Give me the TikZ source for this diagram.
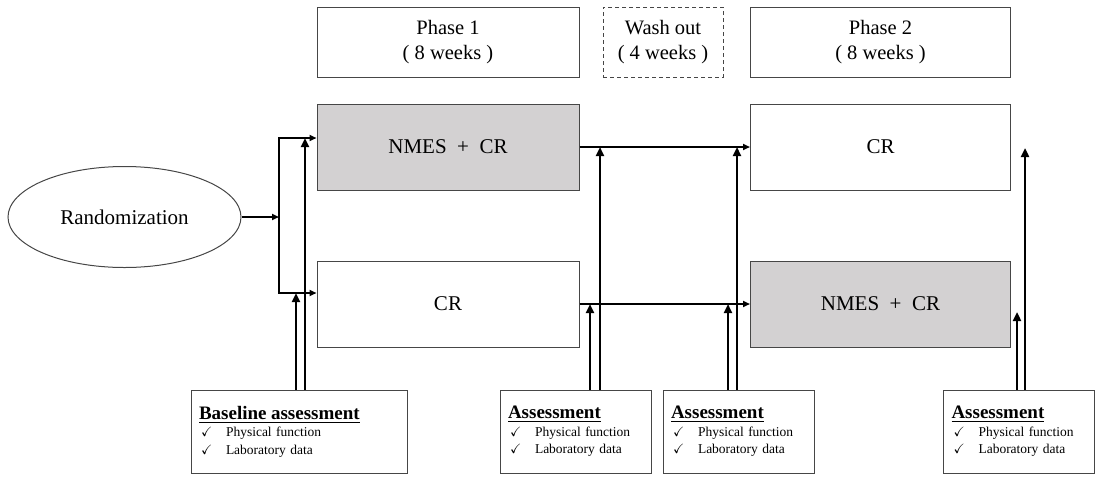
\documentclass[tikz,border=0pt]{standalone}
\usepackage{amssymb}
\usepackage{fontspec}
\setmainfont{Liberation Serif}
\usepackage{tikz}
\usetikzlibrary{arrows.meta,shapes.geometric}
\definecolor{boxgray}{RGB}{211,209,210}
\definecolor{edgegray}{RGB}{70,70,70}
\newcommand{\chk}{\hspace*{2pt}\makebox[25pt][l]{$\checkmark$}}

\begin{document}
\begin{tikzpicture}[x=1pt,y=-1pt,
    phasebox/.style={draw=edgegray,line width=1pt,minimum height=70pt,align=center,font=\fontsize{20.5}{25}\selectfont},
    armbox/.style={draw=edgegray,line width=1pt,minimum width=262pt,minimum height=86pt,font=\fontsize{21}{25}\selectfont},
    assessbox/.style={draw=edgegray,line width=1pt,minimum height=83pt,inner xsep=8pt,align=left,font=\fontsize{13.5}{17.5}\selectfont},
    link/.style={line width=1.7pt,line join=miter,-{Triangle[length=7pt,width=6pt]}},
    bigarrow/.style={line width=2.6pt,-{Triangle[length=9pt,width=8pt]}}]
    \useasboundingbox (0,0) rectangle (1096,483);
    % randomization
    \node[draw=edgegray,line width=1pt,ellipse,minimum width=233pt,minimum height=101pt,inner sep=0pt,font=\fontsize{21}{25}\selectfont] (rand) at (124.5,217) {Randomization};
    % phases
    \node[phasebox,minimum width=262pt] (phase1) at (448,42) {Phase 1\\( 8 weeks )};
    \node[phasebox,minimum width=120pt,dash pattern=on 4pt off 3pt] (wash) at (663,42) {Wash out\\( 4 weeks )};
    \node[phasebox,minimum width=260pt] (phase2) at (880.5,42) {Phase 2\\( 8 weeks )};
    % arms
    \node[armbox,fill=boxgray] (nmes1) at (448,147) {NMES~~+~~CR};
    \node[armbox,minimum width=260pt] (cr2) at (880.5,147) {CR};
    \node[armbox] (cr1) at (448,304) {CR};
    \node[armbox,minimum width=260pt,fill=boxgray] (nmes2) at (880.5,304) {NMES~~+~~CR};
    % assessments
    \node[assessbox,text width=200pt] (base) at (299,431.5) {{\fontsize{19}{17.5}\selectfont\underline{\textbf{Baseline assessment}}}\\ \chk Physical function\\ \chk Laboratory data};
    \node[assessbox,text width=135pt] (as1) at (575.5,431.5) {{\fontsize{19}{17.5}\selectfont\underline{\textbf{Assessment}}}\\ \chk Physical function\\ \chk Laboratory data};
    \node[assessbox,text width=135pt] (as2) at (738.5,431.5) {{\fontsize{19}{17.5}\selectfont\underline{\textbf{Assessment}}}\\ \chk Physical function\\ \chk Laboratory data};
    \node[assessbox,text width=135pt] (as3) at (1019,431.5) {{\fontsize{19}{17.5}\selectfont\underline{\textbf{Assessment}}}\\ \chk Physical function\\ \chk Laboratory data};
    % split after randomization
    \coordinate (splittop) at (279,138);
    \coordinate (splitbot) at (279,293);
    \draw[link] (rand.east) -- (rand.east -| splittop);
    \draw[link] (splitbot) -- (splittop) -- (splittop -| nmes1.west);
    \draw[link] (splittop) -- (splitbot) -- (splitbot -| cr1.west);
    \draw[link] (nmes1.east) -- (cr2.west);
    \draw[link] (cr1.east) -- (nmes2.west);
    % assessment arrows
    \draw[bigarrow] ([xshift=-3pt]base.north) -- ([xshift=-3pt]base.north |- splitbot);
    \draw[bigarrow] ([xshift=6pt]base.north) -- ([xshift=6pt]base.north |- splittop);
    \draw[bigarrow] ([xshift=14.5pt]as1.north) -- ([xshift=14.5pt]as1.north |- cr1.east);
    \draw[bigarrow] ([xshift=24.5pt]as1.north) -- ([xshift=24.5pt]as1.north |- nmes1.east);
    \draw[bigarrow] ([xshift=-10.5pt]as2.north) -- ([xshift=-10.5pt]as2.north |- cr1.east);
    \draw[bigarrow] ([xshift=-1.5pt]as2.north) -- ([xshift=-1.5pt]as2.north |- nmes1.east);
    \coordinate (endlow) at (1017,312);
    \coordinate (endhigh) at (1025,148);
    \draw[bigarrow] ([xshift=-2pt]as3.north) -- (endlow);
    \draw[bigarrow] ([xshift=6pt]as3.north) -- (endhigh);
\end{tikzpicture}
\end{document}
